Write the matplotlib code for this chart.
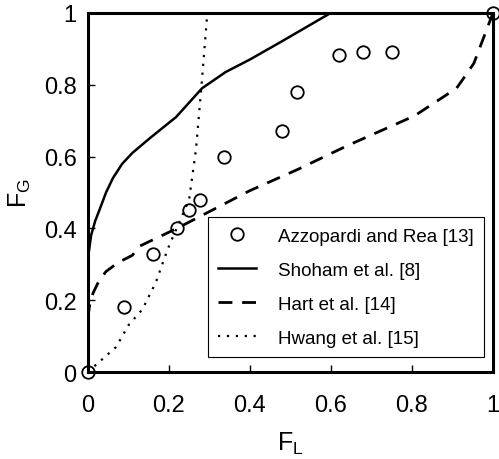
import matplotlib
matplotlib.use("Agg")
import matplotlib.pyplot as plt
from matplotlib.ticker import FuncFormatter

plt.rcParams['font.family'] = ['Liberation Sans', 'DejaVu Sans']

# measured data points
azz_fl = [0.0, 0.09, 0.16, 0.22, 0.25, 0.276, 0.336, 0.478, 0.517, 0.62, 0.68, 0.75, 1.0]
azz_fg = [0.0, 0.18, 0.33, 0.40, 0.45, 0.48, 0.60, 0.67, 0.78, 0.883, 0.89, 0.89, 1.0]

# model curves
shoham_fl = [0.0, 0.002, 0.008, 0.018, 0.03, 0.045, 0.062, 0.085, 0.11, 0.152, 0.218, 0.282, 0.34, 0.40, 0.478, 0.60]
shoham_fg = [0.28, 0.33, 0.38, 0.42, 0.455, 0.50, 0.54, 0.58, 0.61, 0.65, 0.71, 0.79, 0.835, 0.87, 0.92, 1.0]

hart_fl = [0.0, 0.005, 0.013, 0.028, 0.045, 0.075, 0.11, 0.127, 0.22, 0.40, 0.52, 0.64, 0.806, 0.91, 0.935, 0.953, 1.0]
hart_fg = [0.15, 0.19, 0.22, 0.255, 0.28, 0.305, 0.325, 0.35, 0.40, 0.505, 0.565, 0.63, 0.713, 0.79, 0.83, 0.86, 1.0]

hwang_fl = [0.0, 0.02, 0.07, 0.10, 0.135, 0.168, 0.19, 0.20, 0.25, 0.267, 0.28, 0.295]
hwang_fg = [0.0, 0.02, 0.07, 0.13, 0.175, 0.25, 0.32, 0.35, 0.48, 0.62, 0.79, 1.0]

fig = plt.figure(figsize=(4.99, 4.60), dpi=100)
ax = fig.add_axes([0.176, 0.189, 0.812, 0.781])

ax.plot(azz_fl, azz_fg, 'o', mfc='none', mec='black', ms=9, mew=1.3,
        clip_on=False, zorder=5, label='Azzopardi and Rea [13]')
ax.plot(shoham_fl, shoham_fg, '-', color='black', lw=1.8, label='Shoham et al. [8]')
ax.plot(hart_fl, hart_fg, color='black', lw=2.0, dashes=(5, 3.5), label='Hart et al. [14]')
ax.plot(hwang_fl, hwang_fg, color='black', lw=1.6, dashes=(1, 3), label='Hwang et al. [15]')

ax.set_xlim(0, 1)
ax.set_ylim(0, 1)
ax.set_xticks([0, 0.2, 0.4, 0.6, 0.8, 1])
ax.set_yticks([0, 0.2, 0.4, 0.6, 0.8, 1])
fmt = FuncFormatter(lambda v, p: '%g' % v)
ax.xaxis.set_major_formatter(fmt)
ax.yaxis.set_major_formatter(fmt)
ax.tick_params(direction='in', length=5, width=1, labelsize=17)
ax.tick_params(axis='x', pad=16)
ax.tick_params(axis='y', pad=8)
for s in ax.spines.values():
    s.set_linewidth(2.2)

ax.set_xlabel('F$_\\mathregular{L}$', fontsize=18, labelpad=10)
ax.set_ylabel('F$_\\mathregular{G}$', fontsize=18, labelpad=8)

leg = ax.legend(loc='lower right', bbox_to_anchor=(0.978, 0.042), borderaxespad=0,
                fontsize=13.5, fancybox=False, edgecolor='black', framealpha=1,
                handlelength=2.0, labelspacing=0.9, borderpad=0.55, handletextpad=1.2)
leg.get_frame().set_linewidth(0.8)

fig.savefig('out.png', dpi=100)
